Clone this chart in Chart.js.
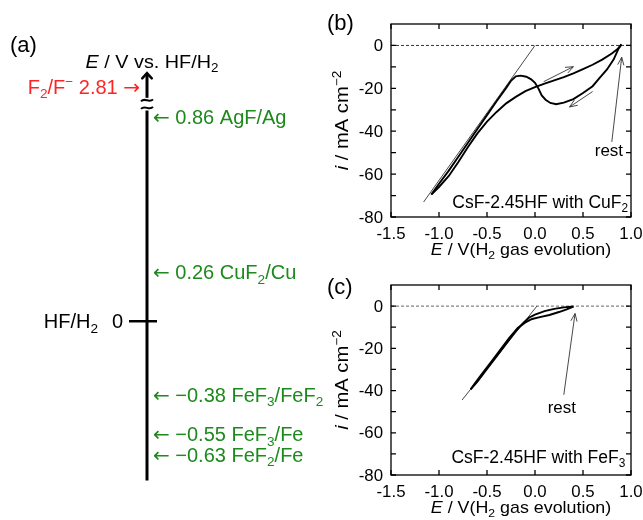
<!DOCTYPE html>
<html>
<head>
<meta charset="utf-8">
<title>Fluoride potentials and CVs in CsF-2.45HF</title>
<script src="https://cdn.jsdelivr.net/npm/chart.js@4.4.1/dist/chart.umd.min.js"></script>
<style>
  body { margin: 0; background: #fff; }
  #page { position: relative; width: 643px; height: 520px; overflow: hidden; }
  #page canvas { position: absolute; }
</style>
</head>
<body>
<div id="page">
  <canvas id="ladder" width="340" height="520" style="left:0;top:0"></canvas>
  <canvas id="cuf2" width="323" height="260" style="left:320px;top:0"></canvas>
  <canvas id="fef3" width="323" height="260" style="left:320px;top:260px"></canvas>
</div>
<script>
// =============================================================================
// DATA
// =============================================================================

// (a) equilibrium potentials of the fluoride couples, V vs. HF/H2
const couples = ['AgF/Ag', 'CuF_2/Cu', 'FeF_3/FeF_2', 'FeF_3/Fe', 'FeF_2/Fe'];
const potentials = [0.86, 0.26, -0.38, -0.55, -0.63];
const fluorineCouple = 'F_2/F^−';
const fluorinePotential = 2.81;

// (b) CsF-2.45HF with CuF2: cathodic scan from rest, then the anodic return
const cuCathodicE = [0.90, 0.87, 0.82, 0.75, 0.68, 0.60, 0.50, 0.40, 0.30, 0.22, 0.16, 0.11, 0.07, 0.035, 0.00, -0.04, -0.09, -0.15, -0.20, -0.25, -0.30, -0.40, -0.50, -0.60, -0.70, -0.80, -0.90, -1.00, -1.08];
const cuCathodicI = [0.5, -1.5, -6.5, -11.2, -14.8, -19.0, -22.2, -25.0, -26.7, -27.4, -26.8, -25.3, -23.3, -20.0, -17.4, -15.8, -14.6, -14.1, -14.4, -16.5, -19.8, -26.0, -32.5, -39.0, -45.5, -52.0, -58.5, -64.5, -69.5];
const cuAnodicE = [-1.08, -1.00, -0.90, -0.80, -0.70, -0.60, -0.50, -0.40, -0.30, -0.20, -0.10, 0.00, 0.10, 0.20, 0.30, 0.40, 0.50, 0.60, 0.70, 0.80, 0.86, 0.90];
const cuAnodicI = [-69.5, -66.0, -61.0, -54.5, -47.5, -41.0, -35.5, -31.0, -27.0, -24.0, -21.3, -19.4, -17.8, -16.3, -14.8, -13.0, -11.0, -9.0, -6.6, -3.8, -1.7, 0.5];
const cuTangentE = [-1.16, 0.0];
const cuTangentI = [-73, 0];

// (c) CsF-2.45HF with FeF3
const feCathodicE = [0.40, 0.33, 0.25, 0.15, 0.05, -0.03, -0.10, -0.18, -0.27, -0.36, -0.45, -0.54, -0.62, -0.67];
const feCathodicI = [-0.2, -1.5, -2.8, -4.2, -5.2, -6.1, -7.7, -10.4, -15.2, -20.6, -26.0, -31.4, -36.2, -39.4];
const feAnodicE = [-0.67, -0.60, -0.50, -0.40, -0.30, -0.20, -0.12, -0.06, 0.00, 0.10, 0.20, 0.30, 0.40];
const feAnodicI = [-39.4, -35.8, -29.8, -23.8, -17.8, -11.8, -7.8, -5.4, -4.0, -2.4, -1.3, -0.6, -0.2];
const feTangentE = [-0.76, 0.02];
const feTangentI = [-44.5, 0];

// shared axes of (b) and (c)
const xTicks = [-1.5, -1.0, -0.5, 0.0, 0.5, 1.0];
const yTicks = [-80, -60, -40, -20, 0];
const yMinorTicks = [-80, -70, -60, -50, -40, -30, -20, -10, 0];

const GREEN = '#1c8a1c';
const RED = '#ff2424';
const FONT = '"Liberation Sans", Arial, sans-serif';

// =============================================================================
// HELPERS
// =============================================================================

// the ladder in (a) is schematic: a linear axis with a gentle cubic stretch
// toward both ends, so the close-lying couples do not overprint
class SchematicScale extends Chart.LinearScale {
  static id = 'schematic';
  static defaults = Chart.LinearScale.defaults;
  warp(v) { return v + this.options.bend * v * v * v; }
  getPixelForValue(v) {
    const lo = this.warp(this.min), hi = this.warp(this.max);
    return this.getPixelForDecimal((this.warp(v) - lo) / (hi - lo));
  }
}
Chart.register(SchematicScale);

// split "F_2/F^− 2.81 →" style strings into normal / sub / sup / italic / arrow pieces
function parseRich(s) {
  const segs = [];
  let buf = '', italic = false;
  const flush = () => { if (buf) { segs.push({ t: buf, k: 'n', it: italic }); buf = ''; } };
  for (let i = 0; i < s.length;) {
    const c = s[i];
    if (c === '_' || c === '^') {
      flush();
      let t;
      if (s[i + 1] === '{') { const j = s.indexOf('}', i); t = s.slice(i + 2, j); i = j + 1; }
      else { t = s[i + 1]; i += 2; }
      segs.push({ t, k: c === '_' ? 'sub' : 'sup', it: italic });
    } else if (c === '*') {
      flush(); italic = !italic; i++;
    } else if (c === '←' || c === '→') {
      flush(); segs.push({ t: c, k: 'arrow' }); i++;
    } else { buf += c; i++; }
  }
  flush();
  return segs;
}

// draw rich text; y is the baseline, stretch widens glyphs along the text
function richText(ctx, str, x, y, o) {
  const size = o.size || 13, sx = o.stretch || 1;
  const segs = parseRich(str);
  const fontOf = g => {
    if (g.k === 'arrow') return size.toFixed(1) + 'px "DejaVu Sans", sans-serif';
    return (g.it ? 'italic ' : '') + (g.k === 'n' ? size : size * 0.68).toFixed(1) + 'px ' + FONT;
  };
  let w = 0;
  segs.forEach(g => { ctx.font = fontOf(g); g.w = ctx.measureText(g.t).width; w += g.w; });
  ctx.save();
  ctx.translate(x, y);
  if (o.rotate) ctx.rotate(o.rotate);
  ctx.scale(sx, 1);
  let cx = o.align === 'right' ? -w : o.align === 'center' ? -w / 2 : 0;
  ctx.fillStyle = o.color || '#000';
  ctx.textAlign = 'left';
  ctx.textBaseline = 'alphabetic';
  segs.forEach(g => {
    ctx.font = fontOf(g);
    const dy = g.k === 'sub' ? size * 0.22 : g.k === 'sup' ? -size * 0.4 : 0;
    ctx.fillText(g.t, cx, dy);
    cx += g.w;
  });
  ctx.restore();
}

function line(xs, ys, style) {
  return Object.assign({
    data: xs.map((x, k) => ({ x, y: ys[k] })),
    showLine: true, pointRadius: 0, fill: false, tension: 0,
    borderColor: '#000', borderWidth: 1.9
  }, style);
}

function fmtPot(p) {
  return (p < 0 ? '−' : '') + Math.abs(p).toFixed(2);
}

// open arrow heads on datasets that carry an "arrow" entry
const arrowHeads = {
  id: 'arrowHeads',
  afterDatasetsDraw(chart) {
    const ctx = chart.ctx;
    chart.data.datasets.forEach((ds, i) => {
      if (!ds.arrow) return;
      const pts = chart.getDatasetMeta(i).data;
      const a = pts[pts.length - 2], b = pts[pts.length - 1];
      const ang = Math.atan2(b.y - a.y, b.x - a.x);
      const { len, spread, width } = ds.arrow;
      ctx.save();
      ctx.strokeStyle = ds.borderColor;
      ctx.lineWidth = width || ds.borderWidth;
      ctx.lineCap = 'round';
      ctx.beginPath();
      ctx.moveTo(b.x - len * Math.cos(ang - spread), b.y - len * Math.sin(ang - spread));
      ctx.lineTo(b.x, b.y);
      ctx.lineTo(b.x - len * Math.cos(ang + spread), b.y - len * Math.sin(ang + spread));
      ctx.stroke();
      ctx.restore();
    });
  }
};

function baseOptions(xr, yr, pad) {
  return {
    responsive: false, animation: false, devicePixelRatio: 1, events: [],
    layout: { padding: pad },
    plugins: { legend: { display: false }, tooltip: { enabled: false } },
    scales: {
      x: { type: 'linear', display: false, min: xr[0], max: xr[1] },
      y: { type: 'linear', display: false, min: yr[0], max: yr[1] }
    }
  };
}

// =============================================================================
// (a) POTENTIAL LADDER
// =============================================================================

const axisBottom = -0.72, breakLow = 0.88, breakHigh = 0.915, arrowTip = 0.98, f2LabelAt = 0.945;

const ladderDecor = {
  id: 'ladderDecor',
  afterDraw(chart) {
    const { ctx, scales: { x, y } } = chart;
    const ax = x.getPixelForValue(0);

    // axis break
    ctx.save();
    ctx.strokeStyle = '#000';
    ctx.lineWidth = 2;
    ctx.beginPath();
    [y.getPixelForValue(breakHigh) + 2.5, y.getPixelForValue(breakLow) - 2.5].forEach(cy => {
      ctx.moveTo(ax - 6, cy + 1);
      ctx.bezierCurveTo(ax - 2, cy - 3.5, ax + 2, cy + 3.5, ax + 6, cy - 1);
    });
    ctx.stroke();
    ctx.restore();

    richText(ctx, '(a)', 10, 52, { size: 22 });
    richText(ctx, '*E* / V vs. HF/H_2', ax + 5, y.getPixelForValue(arrowTip) - 5, { size: 18, stretch: 1.1, align: 'center' });
    richText(ctx, fluorineCouple + ' ' + fluorinePotential.toFixed(2) + ' →', ax - 7, y.getPixelForValue(f2LabelAt) + 7, { size: 20, color: RED, align: 'right' });

    const y0 = y.getPixelForValue(0);
    richText(ctx, '0', ax - 24, y0 + 7, { size: 20, align: 'right' });
    richText(ctx, 'HF/H_2', ax - 49, y0 + 7, { size: 20, align: 'right' });

    potentials.forEach((p, k) => {
      richText(ctx, '← ' + fmtPot(p) + ' ' + couples[k], ax + 6, y.getPixelForValue(p) + 7, { size: 20, color: GREEN });
    });
  }
};

const ladderOptions = baseOptions([-1.47, 1.93], [-0.845, 1.15], 0);
ladderOptions.scales.y.type = 'schematic';
ladderOptions.scales.y.bend = 0.395;

new Chart(document.getElementById('ladder'), {
  type: 'scatter',
  data: {
    datasets: [
      line([0, 0], [axisBottom, breakLow], { borderWidth: 3 }),
      line([0, 0], [breakHigh, arrowTip], { borderWidth: 3, arrow: { len: 7, spread: 0.75, width: 2.5 } }),
      line([-0.18, 0.10], [0, 0], { borderWidth: 2.5 })
    ]
  },
  options: ladderOptions,
  plugins: [arrowHeads, ladderDecor]
});

// =============================================================================
// (b), (c) CYCLIC VOLTAMMOGRAMS
// =============================================================================

function cvDecor(panel) {
  return {
    id: 'cvDecor',
    afterDraw(chart) {
      const { ctx, chartArea: a, scales: { x, y } } = chart;
      ctx.save();
      ctx.strokeStyle = '#000';
      ctx.lineWidth = 1.3;
      ctx.strokeRect(a.left, a.top, a.right - a.left, a.bottom - a.top);
      ctx.beginPath();
      yMinorTicks.forEach(v => {
        const py = y.getPixelForValue(v);
        ctx.moveTo(a.left, py); ctx.lineTo(a.left + 5, py);
        ctx.moveTo(a.right, py); ctx.lineTo(a.right - 5, py);
      });
      xTicks.forEach(v => {
        const px = x.getPixelForValue(v);
        ctx.moveTo(px, a.bottom); ctx.lineTo(px, a.bottom - 5);
        ctx.moveTo(px, a.top); ctx.lineTo(px, a.top + 5);
      });
      ctx.stroke();
      ctx.restore();

      const tick = { size: 16, stretch: 1.05 };
      yTicks.forEach(v => richText(ctx, String(v), a.left - 8, y.getPixelForValue(v) + 5.7, Object.assign({ align: 'right' }, tick)));
      xTicks.forEach(v => richText(ctx, v.toFixed(1), x.getPixelForValue(v), a.bottom + 21.5, Object.assign({ align: 'center' }, tick)));

      richText(ctx, '*E* / V(H_2 gas evolution)', (a.left + a.right) / 2 + 10, a.bottom + 38, { size: 17, stretch: 1.05, align: 'center' });
      richText(ctx, '*i* / mA cm^{−2}', a.left - 43, (a.top + a.bottom) / 2, { size: 18, stretch: 1.12, align: 'center', rotate: -Math.PI / 2 });

      richText(ctx, panel.label, 7, panel.labelY, { size: 22 });
      richText(ctx, panel.note, x.getPixelForValue(panel.noteAt[0]), y.getPixelForValue(panel.noteAt[1]), { size: 17.5, align: 'right' });
      richText(ctx, 'rest', x.getPixelForValue(panel.restAt[0]), y.getPixelForValue(panel.restAt[1]) + 6, { size: 17, align: 'center' });
    }
  };
}

const thin = { borderWidth: 0.9, borderColor: '#333' };
const head = { len: 8, spread: 0.38, width: 0.9 };
const zeroLine = line([-1.5, 1.0], [0, 0], { borderWidth: 1, borderColor: '#333', borderDash: [3, 2] });

new Chart(document.getElementById('cuf2'), {
  type: 'scatter',
  data: {
    datasets: [
      line(cuCathodicE, cuCathodicI),
      line(cuAnodicE, cuAnodicI),
      line(cuTangentE, cuTangentI, thin),
      line([0.09, 0.40], [-16.9, -9.9], Object.assign({ arrow: head }, thin)),
      line([0.60, 0.36], [-21.5, -28.7], Object.assign({ arrow: head }, thin)),
      line([0.80, 0.903], [-45, -5.5], Object.assign({ arrow: head }, thin)),
      zeroLine
    ]
  },
  options: baseOptions([-1.5, 1.0], [-80, 10], { left: 71, right: 12, top: 24, bottom: 43 }),
  plugins: [arrowHeads, cvDecor({
    label: '(b)', labelY: 30,
    note: 'CsF-2.45HF with CuF_2', noteAt: [0.97, -76],
    restAt: [0.77, -48.8]
  })]
});

new Chart(document.getElementById('fef3'), {
  type: 'scatter',
  data: {
    datasets: [
      line(feCathodicE, feCathodicI),
      line(feAnodicE, feAnodicI),
      line(feTangentE, feTangentI, thin),
      line([0.30, 0.417], [-42, -3.5], Object.assign({ arrow: head }, thin)),
      Object.assign({}, zeroLine, { data: zeroLine.data.slice(), borderColor: '#666' })
    ]
  },
  options: baseOptions([-1.5, 1.0], [-80, 10], { left: 71, right: 12, top: 25, bottom: 45 }),
  plugins: [arrowHeads, cvDecor({
    label: '(c)', labelY: 34,
    note: 'CsF-2.45HF with FeF_3', noteAt: [0.94, -74.3],
    restAt: [0.28, -48]
  })]
});
</script>
</body>
</html>
